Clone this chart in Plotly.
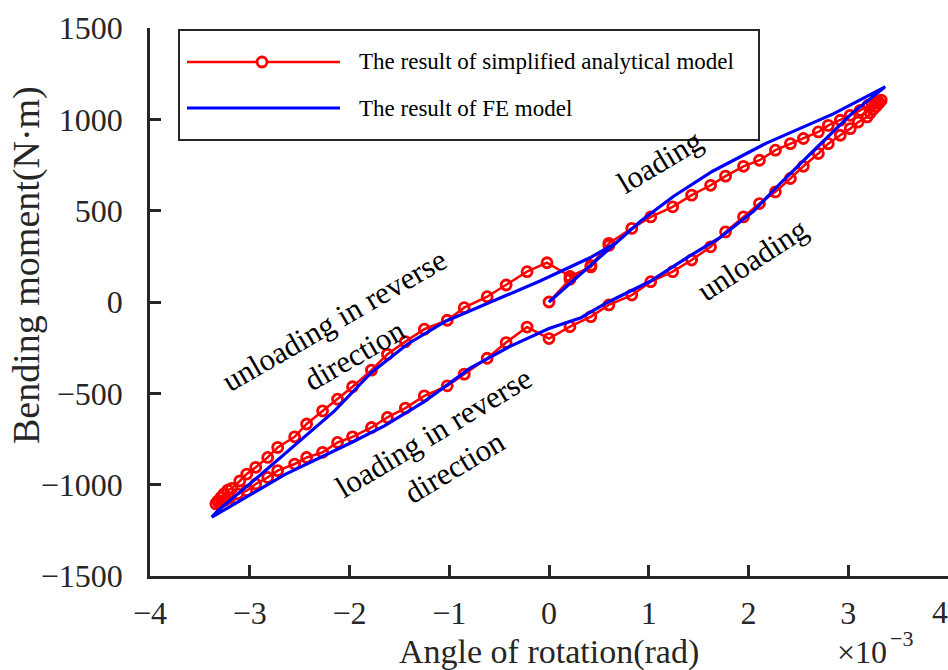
import plotly.graph_objects as go

# Simplified analytical model (red, with markers) -- angle in 1e-3 rad, moment in N·m
red_x = [0.0, 0.21, 0.42,
         0.60, 0.83, 1.02, 1.24, 1.43, 1.62, 1.77, 1.95, 2.11, 2.27, 2.42, 2.55, 2.70, 2.80, 2.92, 3.02, 3.12, 3.20, 3.24, 3.27, 3.30, 3.33,
         3.31, 3.28, 3.25, 3.22, 3.19, 3.10, 3.02, 2.92, 2.80, 2.70, 2.55, 2.42, 2.27, 2.11, 1.95, 1.77, 1.62, 1.43, 1.24, 1.02, 0.83, 0.60, 0.42, 0.21, 0.0,
         -0.22, -0.43, -0.62, -0.85, -1.02, -1.25, -1.44, -1.62, -1.78, -1.97, -2.12, -2.27, -2.43, -2.55, -2.72, -2.82, -2.94, -3.03, -3.12, -3.20, -3.25, -3.28, -3.31, -3.34,
         -3.32, -3.29, -3.26, -3.22, -3.18, -3.10, -3.03, -2.94, -2.82, -2.72, -2.55, -2.43, -2.27, -2.12, -1.97, -1.78, -1.62, -1.44, -1.25, -1.02, -0.85, -0.62, -0.43, -0.22, -0.02, 0.21, 0.42, 0.60]
red_y = [0, 125, 200,
         321, 403, 466, 521, 585, 639, 689, 743, 776, 831, 867, 895, 931, 967, 995, 1022, 1049, 1077, 1085, 1092, 1098, 1105,
         1090, 1072, 1055, 1035, 1013, 985, 949, 913, 867, 813, 743, 676, 603, 539, 466, 384, 302, 230, 166, 111, 38, -16, -80, -135, -200,
         -137, -222, -308, -395, -459, -514, -581, -632, -687, -738, -769, -823, -851, -887, -923, -960, -996, -1033, -1050, -1072, -1085, -1092, -1098, -1105,
         -1090, -1070, -1051, -1030, -1020, -980, -942, -905, -851, -796, -738, -668, -596, -532, -464, -373, -286, -217, -149, -100, -31, 29, 93, 166, 215, 140, 192, 310]

# FE model (blue)
blue_x = [0.0, 0.67, 0.92, 1.25, 1.64, 2.18, 2.85, 3.37,
          3.04, 2.68, 2.34, 2.05, 1.71, 1.52, 1.38, 1.01, 0.58, 0.32, 0.0, -0.38, -0.79, -1.25, -1.65, -1.99, -2.65, -3.38,
          -3.32, -2.98, -2.58, -2.15, -1.78, -1.42, -1.03, -0.58, -0.09, 0.41, 0.67, 0.92, 1.25]
blue_y = [0, 322, 443, 579, 716, 870, 1030, 1178,
          1034, 843, 661, 497, 351, 288, 242, 112, -4, -86, -145, -240, -362, -545, -678, -772, -945, -1178,
          -1142, -987, -796, -596, -386, -231, -104, 0, 115, 242, 322, 443, 579]

x_ticks = [-4, -3, -2, -1, 0, 1, 2, 3]
last_x_label = "4"
y_ticks = [-1500, -1000, -500, 0, 500, 1000, 1500]

legend_labels = ["The result of simplified analytical model", "The result of FE model"]

FONT = "Liberation Serif, Times New Roman, serif"
AX = "#262626"
RED = "#FF0000"
BLUE = "#0000FF"

L, T, W, H = 150, 28, 798, 548


def px(v):
    return (v - L) / W


def py(v):
    return (T + H - v) / H


fig = go.Figure()
fig.add_trace(go.Scatter(x=red_x, y=red_y, mode="lines+markers",
                         line=dict(color=RED, width=2.5),
                         marker=dict(symbol="circle-open", size=10, color=RED, line=dict(width=2.8, color=RED)),
                         name=legend_labels[0], showlegend=False))
fig.add_trace(go.Scatter(x=blue_x, y=blue_y, mode="lines",
                         line=dict(color=BLUE, width=3.2),
                         name=legend_labels[1], showlegend=False))

annos = []
# axis titles
annos.append(dict(xref="paper", yref="paper", x=px(549), y=py(652),
                  text="Angle of rotation(rad)", showarrow=False, font=dict(family=FONT, size=34, color=AX),
                  xanchor="center", yanchor="middle"))
annos.append(dict(xref="paper", yref="paper", x=px(26), y=py(265),
                  text="Bending moment(N·m)", textangle=-90, showarrow=False,
                  font=dict(family=FONT, size=38, color=AX), xanchor="center", yanchor="middle"))
# exponent of the x axis: "×10" and the superscript "−3"
annos.append(dict(xref="paper", yref="paper", x=px(862), y=py(652),
                  text="×10", showarrow=False, font=dict(family=FONT, size=32, color=AX),
                  xanchor="center", yanchor="middle"))
annos.append(dict(xref="paper", yref="paper", x=px(901), y=py(638),
                  text="−3", showarrow=False, font=dict(family=FONT, size=22, color=AX),
                  xanchor="center", yanchor="middle"))
# last x tick label, kept inside the page
annos.append(dict(xref="paper", yref="paper", x=px(940), y=py(612), text=last_x_label, showarrow=False,
                  font=dict(family=FONT, size=32, color=AX), xanchor="center", yanchor="middle"))
# curve labels
lab_font = dict(family=FONT, size=31, color="black")
annos.append(dict(x=1.11, y=770, text="loading", textangle=-31, showarrow=False, font=lab_font))
annos.append(dict(x=2.04, y=235, text="unloading", textangle=-33, showarrow=False, font=lab_font))
annos.append(dict(x=-2.05, y=-197, text="unloading in reverse<br>direction", textangle=-30, showarrow=False, font=lab_font))
annos.append(dict(x=-1.05, y=-809, text="loading in reverse<br>direction", textangle=-31, showarrow=False, font=lab_font))
# manual legend texts
annos.append(dict(xref="paper", yref="paper", x=px(357), y=py(62), text=legend_labels[0],
                  showarrow=False, xanchor="left", yanchor="middle", font=dict(family=FONT, size=23, color="black")))
annos.append(dict(xref="paper", yref="paper", x=px(357), y=py(108), text=legend_labels[1],
                  showarrow=False, xanchor="left", yanchor="middle", font=dict(family=FONT, size=23, color="black")))

shapes = [
    dict(type="rect", xref="paper", yref="paper", x0=px(179), x1=px(759), y0=py(140), y1=py(30),
         line=dict(color=AX, width=2), fillcolor="white", layer="above"),
    dict(type="line", xref="paper", yref="paper", x0=px(187), x1=px(340), y0=py(62), y1=py(62),
         line=dict(color=RED, width=2.5), layer="above"),
    dict(type="circle", xref="paper", yref="paper", xsizemode="pixel", ysizemode="pixel",
         xanchor=px(262), yanchor=py(62), x0=-5, x1=5, y0=-5, y1=5,
         line=dict(color=RED, width=2.8), fillcolor="white", layer="above"),
    dict(type="line", xref="paper", yref="paper", x0=px(187), x1=px(340), y0=py(108), y1=py(108),
         line=dict(color=BLUE, width=3.2), layer="above"),
]

fig.update_layout(
    width=948, height=670,
    margin=dict(l=L, r=948 - L - W, t=T, b=670 - T - H, autoexpand=False),
    paper_bgcolor="white", plot_bgcolor="white",
    showlegend=False,
    annotations=annos, shapes=shapes,
    font=dict(family=FONT, color=AX),
)
fig.update_xaxes(range=[-4, 4], tickvals=x_ticks, ticks="inside", ticklen=11, tickwidth=2.5,
                 tickcolor=AX, showline=True, linecolor=AX, linewidth=2.5, showgrid=False, zeroline=False,
                 automargin=False, tickfont=dict(family=FONT, size=32, color=AX), ticklabelstandoff=7)
fig.update_yaxes(range=[-1500, 1500], tickvals=y_ticks, ticks="inside", ticklen=11, tickwidth=2.5, tickcolor=AX,
                 showline=True, linecolor=AX, linewidth=2.5, showgrid=False, zeroline=False, automargin=False,
                 tickfont=dict(family=FONT, size=32, color=AX), ticklabelstandoff=18)

fig.write_html("out.html")
